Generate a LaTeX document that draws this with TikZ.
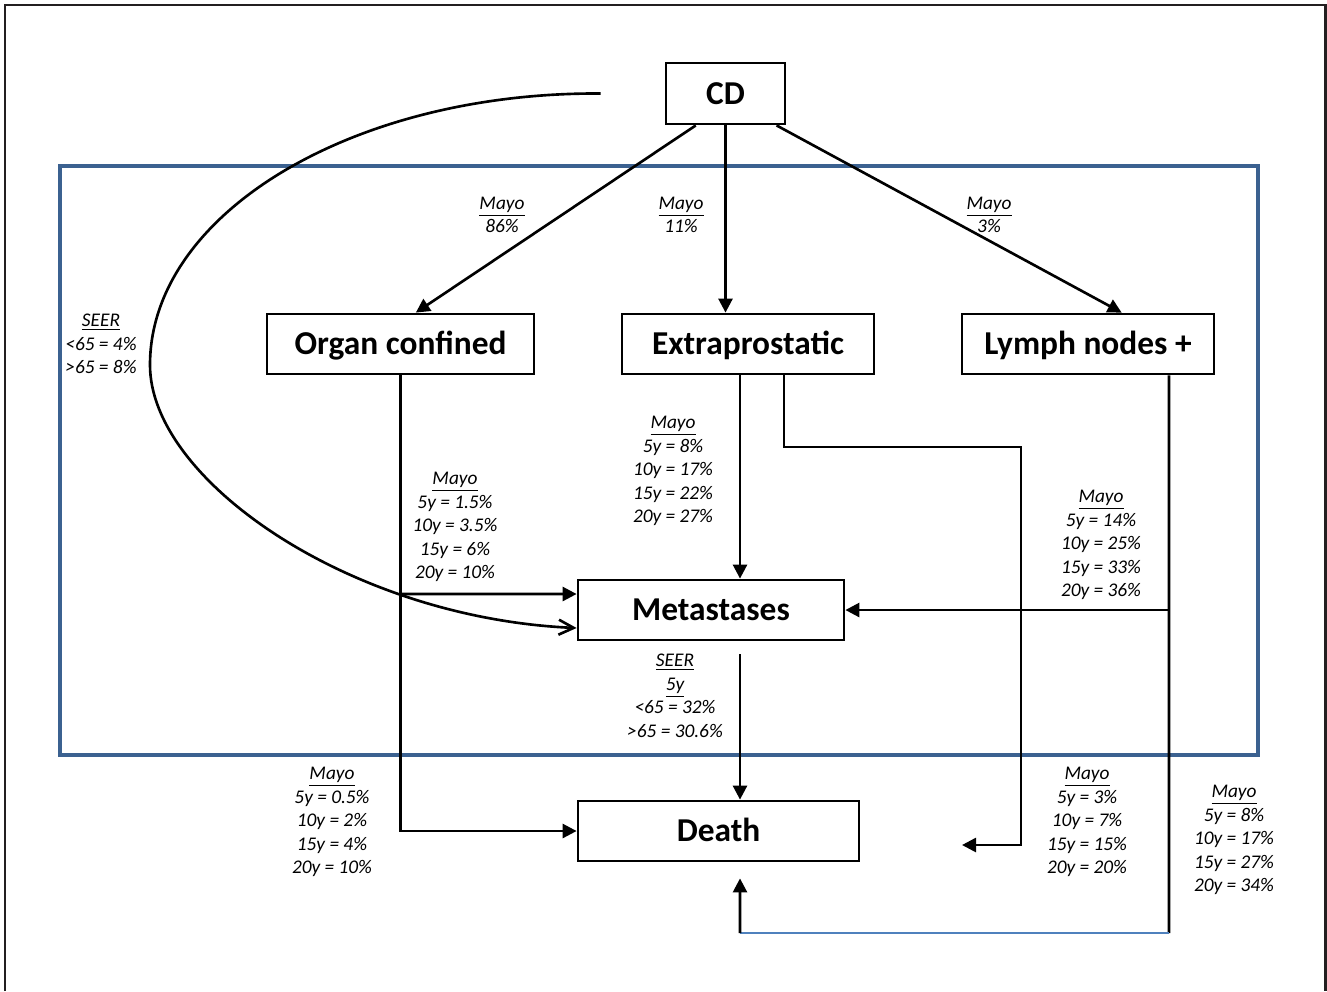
\documentclass[tikz,border=0pt]{standalone}
\usepackage{fontspec}
\setmainfont{Carlito}
\usetikzlibrary{arrows.meta}
\definecolor{framegray}{HTML}{231F20}
\definecolor{boxblue}{HTML}{3B6190}
\definecolor{lineblue}{HTML}{4F81BD}

\begin{document}
\begin{tikzpicture}[x=0.02cm,y=-0.02cm,
		box/.style={draw,line width=1.6pt,minimum height=1.2cm,inner sep=0pt,text height=14.5pt,text depth=2pt,font=\fontsize{19}{22}\selectfont\bfseries},
		lab/.style={align=center,inner sep=0pt,font=\fontsize{11}{13.4}\selectfont\itshape},
		arr/.style={line width=1.5pt,-{Triangle[length=0.28cm,width=0.28cm]}},
		conn/.style={line width=1.5pt}]
		\useasboundingbox (0,0) rectangle (1327,991);
		\draw[line width=1.7pt,framegray] (5,991)--(5,5)--(1325,5)--(1325,991);
		\draw[line width=2.8pt,boxblue] (60,166) rectangle (1258,755);
		% boxes
		\node[box,minimum width=2.38cm,minimum height=1.22cm] (cd) at (725.5,93.5) {CD};
		\node[box,minimum width=5.34cm] (organ) at (400.5,344) {Organ confined};
		\node[box,minimum width=5.04cm] (extra) at (748,344) {Extraprostatic};
		\node[box,minimum width=5.04cm] (lymph) at (1088,344) {Lymph nodes +};
		\node[box,minimum width=5.32cm] (met) at (711,610) {Metastases};
		\node[box,minimum width=5.62cm] (death) at (718.5,831) {Death};
		\coordinate (cstart) at ([xshift=-1.28cm]cd.west);
		\coordinate (xend) at (962,845);
		\coordinate (lturn) at (1169,933);
		\coordinate (dturn) at (740,933);
		% from CD
		\draw[arr] (cd.227)--(organ.64);
		\draw[arr] (cd.south)--(cd.south |- extra.north);
		\draw[arr] (cd.-32)--(lymph.43);
		\draw[conn,-{Straight Barb[length=0.3cm,width=0.3cm]}] (cstart) .. controls (352,92) and (150,214) .. (150,365)
			.. controls (150,480) and (350,618) .. ([yshift=-0.36cm]met.west);
		% organ confined
		\draw[arr] (organ.south) |- (death.west);
		\draw[arr] (organ.south |- 0,594)--([yshift=0.32cm]met.west);
		% extraprostatic
		\draw[arr] ([xshift=-0.16cm]extra.south)--([xshift=-0.16cm]extra.south |- met.north);
		\draw[arr] ([xshift=0.72cm]extra.south) |- (1021,447)--(1021,845)--(xend);
		% lymph nodes
		\draw[conn] ([xshift=1.62cm]lymph.south)--(lturn);
		\draw[arr] (lturn |- met.east)--(met.east);
		\draw[line width=1.2pt,lineblue] (lturn)--(dturn);
		\draw[arr] (dturn)--([xshift=0.43cm,yshift=-0.32cm]death.south);
		% metastases
		\draw[arr] ([xshift=0.58cm,yshift=-0.26cm]met.south)--([xshift=0.58cm]met.south |- death.north);
		% labels
		\node[lab] (l1) at (502,215) {\underline{Mayo}\\86\%};
		\node[lab] (l2) at (681,215) {\underline{Mayo}\\11\%};
		\node[lab] (l3) at (989,215) {\underline{Mayo}\\3\%};
		\node[lab] (l4) at (101,344) {\underline{SEER}\\<65 = 4\%\\>65 = 8\%};
		\node[lab] (l5) at (455,527) {\underline{Mayo}\\5y = 1.5\%\\10y = 3.5\%\\15y = 6\%\\20y = 10\%};
		\node[lab] (l6) at (673,471) {\underline{Mayo}\\5y = 8\%\\10y = 17\%\\15y = 22\%\\20y = 27\%};
		\node[lab] (l7) at (1101,545) {\underline{Mayo}\\5y = 14\%\\10y = 25\%\\15y = 33\%\\20y = 36\%};
		\node[lab] (l8) at (675,696) {\underline{SEER}\\\underline{5y}\\<65 = 32\%\\>65 = 30.6\%};
		\node[lab] (l9) at (332,822) {\underline{Mayo}\\5y = 0.5\%\\10y = 2\%\\15y = 4\%\\20y = 10\%};
		\node[lab] (l10) at (1087,822) {\underline{Mayo}\\5y = 3\%\\10y = 7\%\\15y = 15\%\\20y = 20\%};
		\node[lab] (l11) at (1234,840) {\underline{Mayo}\\5y = 8\%\\10y = 17\%\\15y = 27\%\\20y = 34\%};
	\end{tikzpicture}
\end{document}
